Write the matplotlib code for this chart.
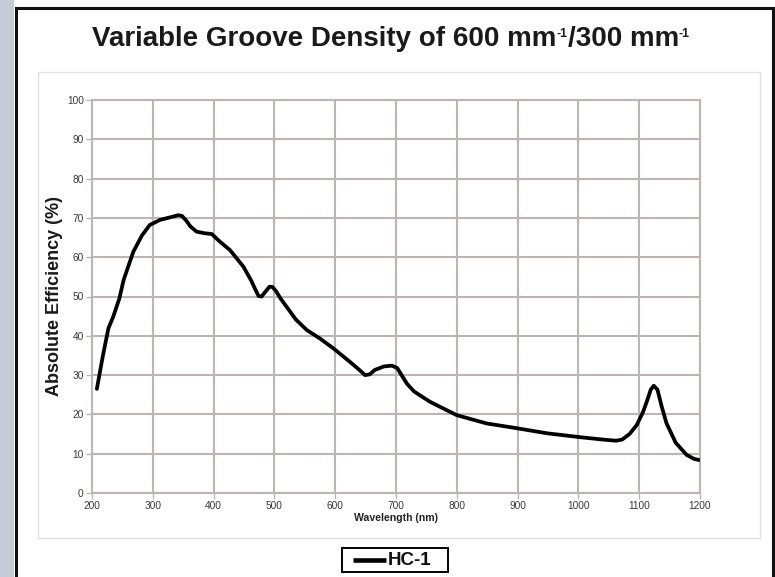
import matplotlib
matplotlib.use("Agg")
import matplotlib.pyplot as plt
from matplotlib.patches import Rectangle
from matplotlib.lines import Line2D

plt.rcParams["font.family"] = ["Liberation Sans", "DejaVu Sans"]

# Absolute efficiency of HC-1
wavelength = [208, 218, 227, 235, 245, 252, 268, 282, 295, 312, 330, 342, 348,
              355, 362, 372, 385, 397, 410, 427, 449, 462, 468, 474, 479, 485,
              492, 497, 503, 510, 520, 535, 553, 575, 597, 624, 640, 649, 657,
              665, 680, 693, 702, 710, 718, 730, 756, 800, 849, 898, 948, 1003,
              1040, 1062, 1072, 1084, 1096, 1106, 1113, 1119, 1124, 1130, 1137,
              1145, 1160, 1178, 1190, 1198]
efficiency = [26.5, 35, 41.9, 44.9, 49.5, 54.2, 61.4, 65.5, 68.2, 69.5, 70.2,
              70.7, 70.5, 69.3, 67.8, 66.5, 66.1, 65.9, 64, 61.8, 57.6, 54,
              52, 50.1, 50, 51.2, 52.5, 52.4, 51.3, 49.5, 47.4, 44.2, 41.5,
              39.3, 36.8, 33.4, 31.3, 30, 30.2, 31.3, 32.2, 32.4, 31.8, 29.8,
              27.8, 25.8, 23.2, 19.8, 17.7, 16.5, 15.2, 14.2, 13.6, 13.3, 13.6,
              15, 17.3, 20.5, 23.5, 26.3, 27.3, 26.3, 22, 17.7, 12.8, 9.7, 8.7,
              8.4]
x_ticks = list(range(200, 1201, 100))
y_ticks = list(range(0, 101, 10))

W, H = 775, 577
fig = plt.figure(figsize=(W / 100, H / 100), dpi=100)


def fx(px):
    return px / W


def fy(py):
    return 1 - py / H


# left strip and outer border
fig.patches.append(Rectangle((0, 0), fx(14), 1, transform=fig.transFigure,
                             facecolor="#c5ccd6", edgecolor="none", zorder=-3))
fig.patches.append(Rectangle((fx(15.5), fy(590)), fx(757), fy(8.5) - fy(590),
                             transform=fig.transFigure, facecolor="white",
                             edgecolor="#111111", linewidth=2.2, zorder=-2))
# faint inner chart frame
fig.patches.append(Rectangle((fx(38), fy(538)), fx(722), fy(72) - fy(538),
                             transform=fig.transFigure, facecolor="none",
                             edgecolor="#e4e0e0", linewidth=1, zorder=-1))

# title with superscripts, laid out piece by piece
renderer = fig.canvas.get_renderer()
pieces = [("Variable Groove Density of 600 mm", 20, 0),
          ("-1", 8.8, 9),
          ("/300 mm", 20, 0),
          ("-1", 8.8, 9)]
texts = []
total = 0
for s, size, rise in pieces:
    t = fig.text(0, 0, s, fontsize=size, fontweight="bold", color="#1a1a1a",
                 ha="left", va="baseline")
    w = t.get_window_extent(renderer).width
    texts.append((t, w, rise))
    total += w
x0 = 391 - total / 2
for t, w, rise in texts:
    t.set_position((fx(x0), fy(46 - rise)))
    x0 += w

ax = fig.add_axes([fx(92), fy(493), fx(700) - fx(92), fy(100) - fy(493)])
ax.set_zorder(2)
ax.set_facecolor("none")
grid_c = "#bfb4b4"
ax.plot(wavelength, efficiency, color="black", linewidth=2.7,
        solid_joinstyle="round", solid_capstyle="round", zorder=3)
ax.set_xlim(200, 1200)
ax.set_ylim(0, 100)
ax.set_xticks(x_ticks)
ax.set_yticks(y_ticks)
ax.grid(True, color=grid_c, linewidth=1.5)
for s in ax.spines.values():
    s.set_color(grid_c)
    s.set_linewidth(1.5)
ax.tick_params(colors=grid_c, labelcolor="#383838", labelsize=7.3, length=4,
               width=1, pad=2)
ax.set_xlabel("Wavelength (nm)", fontsize=7.6, fontweight="bold", labelpad=1,
              color="#222222")
ax.set_ylabel("Absolute Efficiency (%)", fontsize=13, fontweight="bold",
              labelpad=3, color="#1a1a1a")

# legend box
fig.patches.append(Rectangle((fx(342), fy(572)), fx(106), fy(548) - fy(572),
                             transform=fig.transFigure, facecolor="white",
                             edgecolor="black", linewidth=1.4, zorder=3))
fig.lines.append(Line2D([fx(353), fx(386)], [fy(560), fy(560)],
                        transform=fig.transFigure, color="black",
                        linewidth=3.3, solid_capstyle="butt", zorder=4))
fig.text(fx(388), fy(560.5), "HC-1", fontsize=13.5, fontweight="bold",
         ha="left", va="center", color="#111111", zorder=4)

fig.savefig("out.png", dpi=100)
